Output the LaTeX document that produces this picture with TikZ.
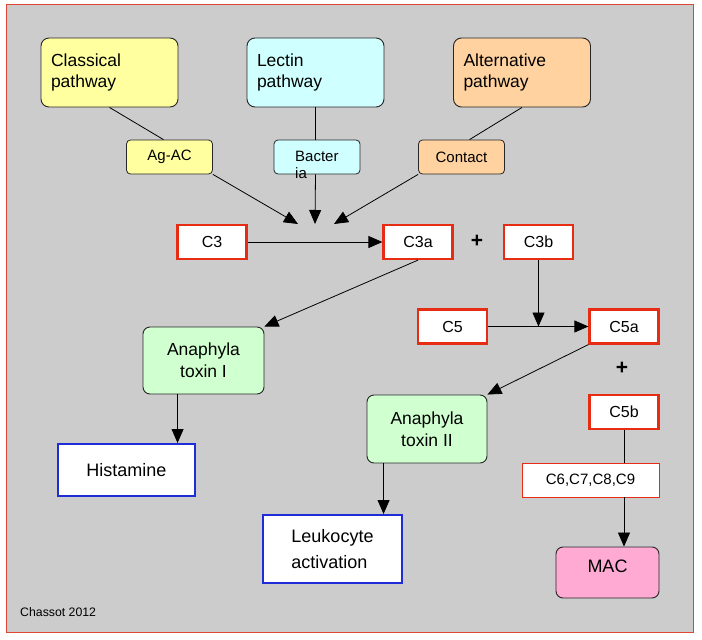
\documentclass[tikz,border=0pt]{standalone}
\usepackage{fontspec}
\setmainfont{Liberation Sans}
\usetikzlibrary{
    arrows.meta,
    positioning,
    calc
}
\definecolor{FrameRed}{RGB}{220,70,50}
\definecolor{BoxRed}{RGB}{230,45,20}
\definecolor{BoxBlue}{RGB}{30,45,215}
\definecolor{BgGray}{RGB}{204,204,204}
\definecolor{PaleYellow}{RGB}{255,255,160}
\definecolor{PaleCyan}{RGB}{208,255,255}
\definecolor{PaleOrange}{RGB}{255,210,160}
\definecolor{PaleGreen}{RGB}{208,255,208}
\definecolor{PalePink}{RGB}{255,170,210}

\begin{document}
\begin{tikzpicture}[
    x=1pt, y=-1pt,
    >={Triangle[length=14pt,width=12pt]},
    pathway/.style={draw=black!85, line width=0.9pt, rounded corners=8pt,
        minimum width=137pt, minimum height=69pt, text width=117pt,
        inner xsep=10pt, align=left, font=\fontsize{17.5}{21}\selectfont},
    trigger/.style={draw=black!85, line width=0.8pt, rounded corners=4pt,
        minimum width=86pt, minimum height=34pt, font=\fontsize{15}{17}\selectfont},
    factor/.style={draw=BoxRed, fill=white, line width=2.2pt,
        minimum width=69pt, minimum height=34pt, font=\fontsize{16}{18}\selectfont},
    toxin/.style={draw=black!85, fill=PaleGreen, line width=0.9pt, rounded corners=7pt,
        minimum width=120pt, minimum height=68pt, align=center,
        font=\fontsize{17.5}{22}\selectfont},
    effect/.style={draw=BoxBlue, fill=white, line width=2pt,
        minimum width=137pt, minimum height=52pt, font=\fontsize{18}{26}\selectfont},
    link/.style={line width=0.8pt},
    plussign/.style={font=\bfseries\fontsize{21}{21}\selectfont}
]

\useasboundingbox (0,0) rectangle (702,640);
\draw[FrameRed, line width=1pt, fill=BgGray] (6,4) rectangle (693,632);

% pathways and triggers
\node[pathway, fill=PaleYellow] (classical) at (109.5,72.5) {Classical\\pathway};
\node[pathway, fill=PaleCyan] (lectin) at (315.5,72.5) {Lectin\\pathway};
\node[pathway, fill=PaleOrange] (alternative) at (522,72.5) {Alternative\\pathway};

\node[trigger, fill=PaleYellow] (agac) at (169.5,157) {Ag-AC};
\node[trigger, fill=PaleCyan] (bact) at (317,157) {};
\node[anchor=west, inner sep=0pt, align=left, font=\fontsize{15}{16.5}\selectfont]
    (bacttxt) at (295,165) {Bacter\\ia};
\node[trigger, fill=PaleOrange] (contact) at (461.5,157) {Contact};

\coordinate (jA) at (298,224);
\coordinate (jB) at (315,224);
\coordinate (jC) at (334,224);

\draw[link] (classical.south) -- ([xshift=-6pt]agac.north);
\draw[link] (lectin.south) -- (lectin.south |- bact.north);
\draw[link] (alternative.south) -- ([xshift=8pt]contact.north);
\draw[link, ->] (agac.south east) -- (jA);
\draw[link, ->] (lectin.south |- bact.south) -- (jB);
\draw[link, ->] (contact.south west) -- (jC);

% cascade
\node[factor] (c3) at (212,242) {C3};
\node[factor] (c3a) at (418,242) {C3a};
\node[factor] (c3b) at (538.5,242) {C3b};
\node[plussign] (plusA) at (477,241) {+};

\node[factor] (c5) at (452.5,326.5) {C5};
\node[factor] (c5a) at (624,326.5) {C5a};
\node[plussign] (plusB) at (622,368) {+};
\node[factor] (c5b) at (624,412) {C5b};

\coordinate (c5join) at (c3b.south |- c5.east);

\draw[link, ->] (c3) -- (c3a);
\draw[link, ->] (c3b.south) -- (c5join);
\draw[link, ->] (c5) -- (c5a);

% effects
\node[toxin, minimum width=121pt, minimum height=67pt] (anaI) at (203.5,360.5) {Anaphyla\\toxin I};
\node[effect] (hist) at (126.5,470) {Histamine};
\node[toxin] (anaII) at (427,429) {Anaphyla\\toxin II};
\node[effect, minimum width=139pt, minimum height=68pt, align=left] (leuko) at (332.5,549) {Leukocyte\\activation};

\node[draw=BoxRed, fill=white, line width=0.9pt, minimum width=137pt, minimum height=34pt,
    font=\fontsize{15}{17}\selectfont] (c6) at (590.5,480) {C6,C7,C8,C9};
\node[draw=black!85, fill=PalePink, line width=0.9pt, rounded corners=7pt,
    minimum width=103pt, minimum height=51pt, text depth=12pt,
    font=\fontsize{18}{22}\selectfont] (mac) at (607.5,572.5) {MAC};

\draw[link, ->] (c3a.south) -- (anaI.north east);
\draw[link, ->] ([xshift=35pt]anaI.south west) -- ([xshift=35pt]anaI.south west |- hist.north);
\draw[link, ->] (c5a.south west) -- (anaII.north east);
\draw[link, ->] ([xshift=17pt]anaII.south west) -- ([xshift=17pt]anaII.south west |- leuko.north);
\draw[link] (c5b.south) -- (c5b.south |- c6.north);
\draw[link, ->] (c5b.south |- c6.south) -- (c5b.south |- mac.north);

\node[anchor=base west, inner sep=0pt, font=\fontsize{12.3}{14}\selectfont]
    (credit) at (20,616) {Chassot 2012};

\end{tikzpicture}
\end{document}
